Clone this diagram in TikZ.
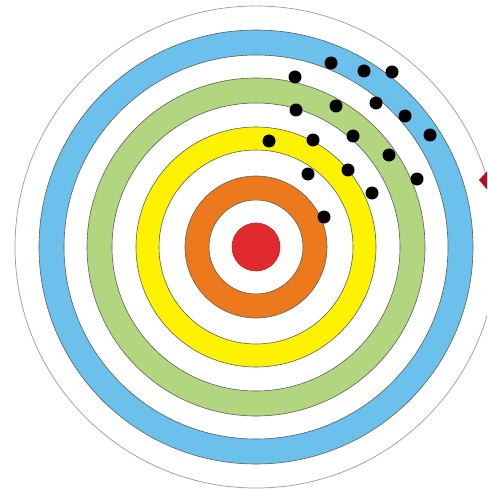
\documentclass[tikz,border=0pt]{standalone}
\usepackage{xcolor}
\usepackage{tikz}
\definecolor{skyring}{HTML}{6CC0EC}
\definecolor{grassring}{HTML}{B2D57F}
\definecolor{sunring}{HTML}{FFF200}
\definecolor{fireing}{HTML}{EC7A1C}
\definecolor{bullred}{HTML}{E12A2E}
\definecolor{arrowred}{HTML}{B0102C}
\definecolor{edge}{HTML}{5A6058}
\tikzset{
  ring/.style={draw=edge, line width=0.6pt, even odd rule},
  rim/.style={draw=gray!80, line width=0.7pt},
  hit/.style={fill=black},
}

\begin{document}
\begin{tikzpicture}[x=1pt, y=-1pt]
\useasboundingbox (0,0) rectangle (487,489);
\clip (0,0) rectangle (487,489);
\coordinate (c) at (256,247);
% outer rim
\draw[rim] (c) circle (241);
% coloured rings
\path[ring, fill=skyring] (c) circle (217) (c) circle (192);
\path[ring, fill=grassring] (c) circle (169) (c) circle (144);
\path[ring, fill=sunring] (c) circle (120) (c) circle (97);
\path[ring, fill=fireing] (c) circle (71) (c) circle (47);
\path[ring, draw=bullred!85!black, fill=bullred] (c) circle (24);
% shots
\foreach \x/\y in {331/63, 364/71, 392/72, 295/77, 296/110, 336/106, 376/103,
  405/116, 430/135, 269/141, 313/140, 353/136, 389/155, 417/179, 308/174,
  348/170, 372/193, 324/217}
  \fill[hit] (\x,\y) circle (6.5);
% arrow tip at the edge
\fill[arrowred] (479,180) -- (490,168) -- (490,193) -- cycle;
\end{tikzpicture}
\end{document}
